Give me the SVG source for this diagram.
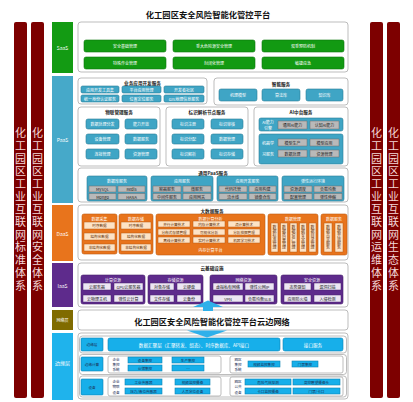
<svg xmlns="http://www.w3.org/2000/svg" width="413" height="402" viewBox="0 0 413 402">
<style>
text{font-family:"Noto Sans CJK SC","Noto Sans",sans-serif;text-anchor:middle;dominant-baseline:central}
.col{fill:#7d0000}
.colt{font-size:11px;fill:#f3d8d8;writing-mode:vertical-rl;letter-spacing:1.7px}
.main{fill:#fff;stroke:#a0a0a0;stroke-width:0.7}
.lab{font-size:5px;fill:#fff}
.ttl{font-size:4.6px;font-weight:bold;fill:#222}
.wt{font-size:4.6px;font-weight:bold;fill:#fff}
.g{fill:#129a12;stroke:#0b760b;stroke-width:0.6}
.t{fill:#3fa5c5;stroke:#2a7c97;stroke-width:0.6}
.gr{fill:#b9b9b9;stroke:#6d6d6d;stroke-width:0.5}
.o{fill:#e8741c;stroke:#c05a10;stroke-width:0.6}
.pe{fill:#fde3c6;stroke:#b85810;stroke-width:0.5}
.p{fill:#5e2b8c;stroke:#47206b;stroke-width:0.6}
.lv{fill:#ece6f3;stroke:#47206b;stroke-width:0.5}
.b{fill:#17afea;stroke:#0c82b3;stroke-width:0.6}
.bt{font-size:4px;fill:#fff}
.dt{font-size:4px;fill:#222}
.nt{font-size:3.6px;fill:#1b2f55}
.vt{font-size:4px;fill:#5a2a00;writing-mode:vertical-rl}
.arr{fill:#2fb0ea}
</style>

<g id="title"><text x="208" y="14" style="font-size:8.3px;font-weight:bold;fill:#111">化工园区安全风险智能化管控平台</text></g>

<g id="col-standard"><rect class="col" x="14" y="22" width="13" height="376" rx="2"/><text class="colt" x="20.5" y="210">化工园区工业互联网标准体系</text></g>
<g id="col-security"><rect class="col" x="31" y="22" width="13" height="376" rx="2"/><text class="colt" x="37.5" y="210">化工园区工业互联网安全体系</text></g>
<g id="col-ops"><rect class="col" x="370" y="22" width="13" height="376" rx="2"/><text class="colt" x="376.5" y="210">化工园区工业互联网运维体系</text></g>
<g id="col-eco"><rect class="col" x="387" y="22" width="13" height="376" rx="2"/><text class="colt" x="393.5" y="210">化工园区工业互联网生态体系</text></g>

<!-- SaaS -->
<g id="saas">
<rect x="52" y="22" width="21" height="51" fill="#139b13"/><text class="lab" x="62.5" y="47">SaaS</text>
<rect class="main" x="78" y="22" width="270" height="50" rx="3"/>
<rect class="g" x="84" y="40" width="82" height="12" rx="2"/><text class="bt" x="125" y="46">安全基础管理</text>
<rect class="g" x="173" y="40" width="82" height="12" rx="2"/><text class="bt" x="214" y="46">重大危险源安全管理</text>
<rect class="g" x="262" y="40" width="82" height="12" rx="2"/><text class="bt" x="303" y="46">双重预防机制</text>
<rect class="g" x="84" y="57" width="82" height="12" rx="2"/><text class="bt" x="125" y="63">特殊作业管理</text>
<rect class="g" x="173" y="57" width="82" height="12" rx="2"/><text class="bt" x="214" y="63">封闭化管理</text>
<rect class="g" x="262" y="57" width="82" height="12" rx="2"/><text class="bt" x="303" y="63">敏捷应急</text>
</g>

<!-- PaaS -->
<g id="paas">
<rect x="52" y="76" width="21" height="127" fill="#46a9c9"/><text class="lab" x="62.5" y="139">PaaS</text>

<g id="biz-dev">
<rect class="main" x="78" y="78" width="129" height="26" rx="3"/><text class="ttl" x="142.5" y="82.5">业务应用开发服务</text>
<rect class="t" x="81" y="86" width="38" height="7" rx="1.5"/><text class="bt" x="100" y="89.5">应用开发工具集</text>
<rect class="t" x="122" y="86" width="39" height="7" rx="1.5"/><text class="bt" x="141.5" y="89.5">平台应用管理</text>
<rect class="t" x="164" y="86" width="40" height="7" rx="1.5"/><text class="bt" x="184" y="89.5">开发者社区</text>
<rect class="t" x="81" y="95" width="38" height="7" rx="1.5"/><text class="bt" x="100" y="98.5">统一身份认证服务</text>
<rect class="t" x="122" y="95" width="39" height="7" rx="1.5"/><text class="bt" x="141.5" y="98.5">位置定位服务</text>
<rect class="t" x="164" y="95" width="40" height="7" rx="1.5"/><text class="bt" x="184" y="98.5">GIS地理信息服务</text>
</g>

<g id="smart">
<rect class="main" x="214" y="78" width="134" height="27" rx="3"/><text class="ttl" x="281" y="83.5">智能服务</text>
<rect class="t" x="219" y="89" width="38" height="12" rx="2"/><text class="bt" x="238" y="95">机理模型</text>
<rect class="t" x="262" y="89" width="38" height="12" rx="2"/><text class="bt" x="281" y="95">算法库</text>
<rect class="t" x="306" y="89" width="37" height="12" rx="2"/><text class="bt" x="324.5" y="95">知识库</text>
</g>

<g id="iot">
<rect class="main" x="78" y="107" width="82" height="59" rx="3"/><text class="ttl" x="119" y="112">物联管理服务</text>
<rect class="t" x="86" y="119" width="33" height="10" rx="2"/><text class="bt" x="102.5" y="124">数据处理分发</text>
<rect class="t" x="125" y="119" width="32" height="10" rx="2"/><text class="bt" x="141" y="124">能力开放</text>
<rect class="t" x="86" y="134" width="33" height="10" rx="2"/><text class="bt" x="102.5" y="139">设备管理</text>
<rect class="t" x="125" y="134" width="32" height="10" rx="2"/><text class="bt" x="141" y="139">数据服务</text>
<rect class="t" x="86" y="149" width="33" height="10" rx="2"/><text class="bt" x="102.5" y="154">连接管理</text>
<rect class="t" x="125" y="149" width="32" height="10" rx="2"/><text class="bt" x="141" y="154">资源管理</text>
</g>

<g id="ident">
<rect class="main" x="166" y="107" width="82" height="59" rx="3"/><text class="ttl" x="207" y="112">标识解析节点服务</text>
<rect class="t" x="172" y="119" width="32" height="10" rx="2"/><text class="bt" x="188" y="124">标识注册</text>
<rect class="t" x="211" y="119" width="32" height="10" rx="2"/><text class="bt" x="227" y="124">标识审核</text>
<rect class="t" x="172" y="134" width="32" height="10" rx="2"/><text class="bt" x="188" y="139">标识分配</text>
<rect class="t" x="211" y="134" width="32" height="10" rx="2"/><text class="bt" x="227" y="139">数据管理</text>
<rect class="t" x="172" y="149" width="32" height="10" rx="2"/><text class="bt" x="188" y="154">标识解析</text>
<rect class="t" x="211" y="149" width="32" height="10" rx="2"/><text class="bt" x="227" y="154">标识存储</text>
</g>

<g id="ai">
<rect class="main" x="254" y="107" width="94" height="59" rx="3"/><text class="ttl" x="301" y="112">AI中台服务</text>
<rect class="t" x="259" y="118" width="84" height="13" rx="2"/>
<text class="bt" x="268" y="122">AI能力</text><text class="bt" x="268" y="127.5">引擎</text>
<rect class="gr" x="278" y="121" width="29" height="8"/><text class="dt" x="292.5" y="125">通用AI能力</text>
<rect class="gr" x="310" y="121" width="29" height="8"/><text class="dt" x="324.5" y="125">认知AI能力</text>
<rect class="t" x="259" y="134" width="84" height="30" rx="2"/>
<text class="bt" x="268" y="143">机器学</text><text class="bt" x="268" y="154">习服务</text>
<rect class="gr" x="278" y="139" width="29" height="7"/><text class="dt" x="292.5" y="142.5">模型生产</text>
<rect class="gr" x="310" y="139" width="29" height="7"/><text class="dt" x="324.5" y="142.5">模型应用</text>
<rect class="gr" x="278" y="150" width="29" height="7"/><text class="dt" x="292.5" y="153.5">数据处理</text>
<rect class="gr" x="310" y="150" width="29" height="7"/><text class="dt" x="324.5" y="153.5">资源管理</text>
</g>

<g id="common-paas">
<rect class="main" x="78" y="168" width="270" height="34" rx="3"/><text class="ttl" x="213" y="172.5">通用PaaS服务</text>
<rect class="t" x="87" y="176" width="60" height="25" rx="2"/><text class="bt" x="117" y="181">数据库服务</text>
<rect class="gr" x="89" y="186" width="27" height="6"/><text class="dt" x="102.5" y="189">MySQL</text>
<rect class="gr" x="118" y="186" width="27" height="6"/><text class="dt" x="131.5" y="189">Redis</text>
<rect class="gr" x="89" y="193.5" width="27" height="6"/><text class="dt" x="102.5" y="196.5">Mongo</text>
<rect class="gr" x="118" y="193.5" width="27" height="6"/><text class="dt" x="131.5" y="196.5">HANA</text>
<rect class="t" x="151" y="176" width="62" height="25" rx="2"/><text class="bt" x="182" y="181">应用服务</text>
<rect class="gr" x="153" y="186" width="28" height="6"/><text class="dt" x="167" y="189">容器服务</text>
<rect class="gr" x="183" y="186" width="28" height="6"/><text class="dt" x="197" y="189">微服务</text>
<rect class="gr" x="153" y="193.5" width="28" height="6"/><text class="dt" x="167" y="196.5">中间件服务</text>
<rect class="gr" x="183" y="193.5" width="28" height="6"/><text class="dt" x="197" y="196.5">应用网关</text>
<rect class="t" x="217" y="176" width="61" height="25" rx="2"/><text class="bt" x="247.5" y="181">应用开发服务</text>
<rect class="gr" x="219" y="186" width="28" height="6"/><text class="dt" x="233" y="189">代码托管</text>
<rect class="gr" x="249" y="186" width="27" height="6"/><text class="dt" x="262.5" y="189">应用构建</text>
<rect class="gr" x="219" y="193.5" width="28" height="6"/><text class="dt" x="233" y="196.5">流水线</text>
<rect class="gr" x="249" y="193.5" width="27" height="6"/><text class="dt" x="262.5" y="196.5">镜像仓库</text>
<rect class="t" x="282" y="176" width="62" height="25" rx="2"/><text class="bt" x="313" y="181">弹性运行环境</text>
<rect class="gr" x="284" y="186" width="28" height="6"/><text class="dt" x="298" y="189">资源调度</text>
<rect class="gr" x="314" y="186" width="28" height="6"/><text class="dt" x="328" y="189">负载均衡</text>
<rect class="gr" x="284" y="193.5" width="28" height="6"/><text class="dt" x="298" y="196.5">配置管理</text>
<rect class="gr" x="314" y="193.5" width="28" height="6"/><text class="dt" x="328" y="196.5">弹性伸缩</text>
</g>
</g>

<!-- DaaS -->
<g id="daas">
<rect x="52" y="205" width="21" height="56" fill="#e8741c"/><text class="lab" x="62.5" y="233">DaaS</text>
<rect class="main" x="78" y="205" width="270" height="55" rx="3"/><text class="ttl" x="212" y="210.5">大数据服务</text>
<g id="collect">
<rect class="o" x="82" y="214" width="35" height="40" rx="2"/><text class="bt" x="99.5" y="218.5">数据采集</text>
<rect class="pe" x="84" y="222" width="31" height="7"/><text class="nt" x="99.5" y="225.5" style="fill:#5a2a00">时序数据</text>
<rect class="pe" x="84" y="233" width="31" height="7"/><text class="nt" x="99.5" y="236.5" style="fill:#5a2a00">结构化数据</text>
<rect class="pe" x="84" y="244" width="31" height="7"/><text class="nt" x="99.5" y="247.5" style="fill:#5a2a00">非结构化数据</text>
</g>
<g id="store">
<rect class="o" x="119" y="214" width="34" height="40" rx="2"/><text class="bt" x="136" y="218.5">数据存储</text>
<rect class="pe" x="121" y="222" width="30" height="7"/><text class="nt" x="136" y="225.5" style="fill:#5a2a00">时序数据</text>
<rect class="pe" x="121" y="233" width="30" height="7"/><text class="nt" x="136" y="236.5" style="fill:#5a2a00">结构化数据</text>
<rect class="pe" x="121" y="244" width="30" height="7"/><text class="nt" x="136" y="247.5" style="fill:#5a2a00">非结构化数据</text>
</g>
<g id="compute">
<rect class="o" x="156" y="214" width="109" height="41" rx="2"/><text class="bt" x="210.5" y="218.5">数据计算分析</text>
<rect class="pe" x="158" y="221" width="32" height="6"/><text class="nt" x="174" y="224" style="fill:#5a2a00">并行计算技术</text>
<rect class="pe" x="193" y="221" width="32" height="6"/><text class="nt" x="209" y="224" style="fill:#5a2a00">内存计算技术</text>
<rect class="pe" x="228" y="221" width="32" height="6"/><text class="nt" x="244" y="224" style="fill:#5a2a00">流计算技术</text>
<rect class="pe" x="158" y="229" width="32" height="6"/><text class="nt" x="174" y="232" style="fill:#5a2a00">分布式存储管理</text>
<rect class="pe" x="193" y="229" width="32" height="6"/><text class="nt" x="209" y="232" style="fill:#5a2a00">可视化分析</text>
<rect class="pe" x="228" y="229" width="32" height="6"/><text class="nt" x="244" y="232" style="fill:#5a2a00">分析挖掘管理</text>
<rect class="pe" x="158" y="237" width="32" height="6"/><text class="nt" x="174" y="240" style="fill:#5a2a00">离线计算技术</text>
<rect class="pe" x="193" y="237" width="32" height="6"/><text class="nt" x="209" y="240" style="fill:#5a2a00">实时计算技术</text>
<rect class="pe" x="228" y="237" width="32" height="6"/><text class="nt" x="244" y="240" style="fill:#5a2a00">机器学习技术</text>
<text class="bt" x="210.5" y="250">内存计算平台</text>
</g>
<g id="dmanage">
<rect class="o" x="268" y="214" width="50" height="41" rx="2"/><text class="bt" x="293" y="218.5">数据管理</text>
<rect class="pe" x="271" y="223" width="7" height="29"/><text class="vt" x="274.5" y="237.5">数据标准管理</text>
<rect class="pe" x="280.5" y="223" width="7" height="29"/><text class="vt" x="284" y="237.5">数据质量管理</text>
<rect class="pe" x="290" y="223" width="7" height="29"/><text class="vt" x="293.5" y="237.5">数据资产管理</text>
<rect class="pe" x="299.5" y="223" width="7" height="29"/><text class="vt" x="303" y="237.5">数据安全管理</text>
<rect class="pe" x="309" y="223" width="7" height="29"/><text class="vt" x="312.5" y="237.5">数据目录管理</text>
</g>
<g id="dservice">
<rect class="o" x="321" y="214" width="26" height="41" rx="2"/><text class="bt" x="334" y="218.5">数据服务</text>
<rect class="pe" x="324" y="223" width="8" height="29"/><text class="vt" x="328" y="237.5">数据共享服务</text>
<rect class="pe" x="335" y="223" width="8" height="29"/><text class="vt" x="339" y="237.5">数据开放服务</text>
</g>
</g>

<!-- IaaS -->
<g id="iaas">
<rect x="52" y="263" width="21" height="44" fill="#5e2b8c"/><text class="lab" x="62.5" y="285">IaaS</text>
<rect class="main" x="78" y="263" width="270" height="44" rx="3"/><text class="ttl" x="212" y="268">云基础设施</text>
<g id="cpu">
<rect class="p" x="81" y="275" width="64" height="29" rx="2"/><text class="bt" x="113" y="279.5">计算资源</text>
<rect class="lv" x="83" y="283" width="28" height="7"/><text class="dt" x="97" y="286.5">云服务器</text>
<rect class="lv" x="114" y="283" width="29" height="7"/><text class="dt" x="128.5" y="286.5">GPU云服务器</text>
<rect class="lv" x="83" y="295" width="28" height="7"/><text class="dt" x="97" y="298.5">云物理主机</text>
<rect class="lv" x="114" y="295" width="29" height="7"/><text class="dt" x="128.5" y="298.5">弹性云计算</text>
</g>
<g id="storage">
<rect class="p" x="148" y="275" width="55" height="29" rx="2"/><text class="bt" x="175.5" y="279.5">存储资源</text>
<rect class="lv" x="150" y="283" width="24" height="7"/><text class="dt" x="162" y="286.5">对象存储</text>
<rect class="lv" x="177" y="283" width="24" height="7"/><text class="dt" x="189" y="286.5">云硬盘</text>
<rect class="lv" x="150" y="295" width="24" height="7"/><text class="dt" x="162" y="298.5">文件存储</text>
<rect class="lv" x="177" y="295" width="24" height="7"/><text class="dt" x="189" y="298.5">云备份</text>
</g>
<g id="network-res">
<rect class="p" x="210" y="275" width="67" height="29" rx="2"/><text class="bt" x="243.5" y="279.5">网络资源</text>
<rect class="lv" x="213" y="283" width="30" height="7"/><text class="dt" x="228" y="286.5">虚拟私有网络</text>
<rect class="lv" x="245" y="283" width="29" height="7"/><text class="dt" x="259.5" y="286.5">弹性公网IP</text>
<rect class="lv" x="213" y="295" width="30" height="7"/><text class="dt" x="228" y="298.5">VPN</text>
<rect class="lv" x="245" y="295" width="29" height="7"/><text class="dt" x="259.5" y="298.5">负载均衡SLB</text>
</g>
<g id="sec-res">
<rect class="p" x="281" y="275" width="62" height="29" rx="2"/><text class="bt" x="312" y="279.5">安全资源</text>
<rect class="lv" x="284" y="283" width="27" height="7"/><text class="dt" x="297.5" y="286.5">态势感知</text>
<rect class="lv" x="314" y="283" width="27" height="7"/><text class="dt" x="327.5" y="286.5">漏洞扫描</text>
<rect class="lv" x="284" y="295" width="27" height="7"/><text class="dt" x="297.5" y="298.5">应用防火墙</text>
<rect class="lv" x="314" y="295" width="27" height="7"/><text class="dt" x="327.5" y="298.5">入侵检测</text>
</g>
</g>

<!-- Network -->
<g id="net">
<rect x="52" y="310" width="21" height="20" fill="#806b00"/><text class="lab" x="62.5" y="320" style="font-size:4px">网络层</text>
<rect class="main" x="78" y="310" width="270" height="20" rx="3"/>
<text x="212" y="320.5" style="font-size:8.2px;font-weight:bold;fill:#111">化工园区安全风险智能化管控平台云边网络</text>
</g>

<!-- Edge -->
<g id="edge">
<rect x="52" y="333" width="21" height="67" fill="#1fb3ec"/><text class="lab" x="62.5" y="362">边缘层</text>
<rect class="main" x="78" y="333" width="270" height="66" rx="3"/>
<rect class="main" x="79.5" y="336" width="267" height="17" rx="3"/>
<rect class="b" x="81" y="338" width="22" height="13" rx="1"/><text class="nt" x="92" y="344.5">边缘层</text>
<rect class="b" x="108" y="338" width="172" height="13" rx="2"/><text class="bt" x="194" y="344.5" style="font-size:4.6px">数据汇聚层（汇聚转发、组态）、时序数据库、API接口</text>
<rect class="b" x="283" y="338" width="60" height="13" rx="2"/><text class="bt" x="313" y="344.5" style="font-size:4.6px">接口服务</text>

<rect class="main" x="79.5" y="354.5" width="267" height="20" rx="3"/>
<rect class="b" x="81" y="357" width="22" height="14" rx="1"/><text class="nt" x="92" y="364">边缘计算</text>
<rect class="main" x="108" y="356" width="113" height="17" rx="2"/>
<text class="nt" x="116" y="359">企业</text><text class="nt" x="116" y="364">集控</text><text class="nt" x="116" y="369">系统</text>
<rect class="b" x="128" y="357" width="34" height="6"/><text class="nt" x="145" y="360">设备集控</text>
<rect class="b" x="172" y="357" width="32" height="6"/><text class="nt" x="188" y="360">生产集控</text>
<rect class="b" x="128" y="365" width="34" height="6"/><text class="nt" x="145" y="368">仓储集控</text>
<rect class="b" x="172" y="365" width="32" height="6"/><text class="nt" x="188" y="368">…</text>
<rect class="main" x="230" y="356" width="113" height="17" rx="2"/>
<text class="nt" x="238" y="359">园区</text><text class="nt" x="238" y="364">集控</text><text class="nt" x="238" y="369">系统</text>
<rect class="b" x="248" y="361" width="32" height="6"/><text class="nt" x="264" y="364">视频监控集控</text>
<rect class="b" x="292" y="361" width="26" height="6"/><text class="nt" x="305" y="364">门禁集控</text>

<rect class="main" x="79.5" y="376" width="267" height="21" rx="3"/>
<rect class="b" x="81" y="379" width="22" height="16" rx="1"/><text class="nt" x="92" y="387">设备</text>
<rect class="main" x="108" y="377" width="113" height="19" rx="2"/>
<text class="nt" x="116" y="381">企业</text><text class="nt" x="116" y="386.5">物联</text><text class="nt" x="116" y="392">设备</text>
<rect class="b" x="125" y="379" width="37" height="6"/><text class="nt" x="143.5" y="382">工业传感器</text>
<rect class="b" x="175" y="379" width="35" height="6"/><text class="nt" x="192.5" y="382">视频监控摄像</text>
<rect class="b" x="125" y="388" width="37" height="6"/><text class="nt" x="143.5" y="391">压力/液位传感器</text>
<rect class="b" x="175" y="388" width="35" height="6"/><text class="nt" x="192.5" y="391">人员定位设备</text>
<rect class="main" x="230" y="377" width="113" height="19" rx="2"/>
<text class="nt" x="238" y="381">园区</text><text class="nt" x="238" y="386.5">公共</text><text class="nt" x="238" y="392">设备</text>
<rect class="b" x="245" y="379" width="46" height="6"/><text class="nt" x="268" y="382">危险气体探测</text>
<rect class="b" x="293" y="379" width="47" height="6"/><text class="nt" x="316.5" y="382">高空瞭望摄像头</text>
<rect class="b" x="245" y="388" width="46" height="6"/><text class="nt" x="268" y="391">卡口监控摄像</text>
<rect class="b" x="293" y="388" width="47" height="6"/><text class="nt" x="316.5" y="391">门禁/卡口</text>
</g>

<!-- connectors -->
<g id="connectors">
<polygon class="arr" points="208,300.5 223,307 213,307 213,311 203,311 203,307 193,307"/>
<polygon class="arr" points="187,330.5 227,330.5 207,337.5"/>
</g>
</svg>
